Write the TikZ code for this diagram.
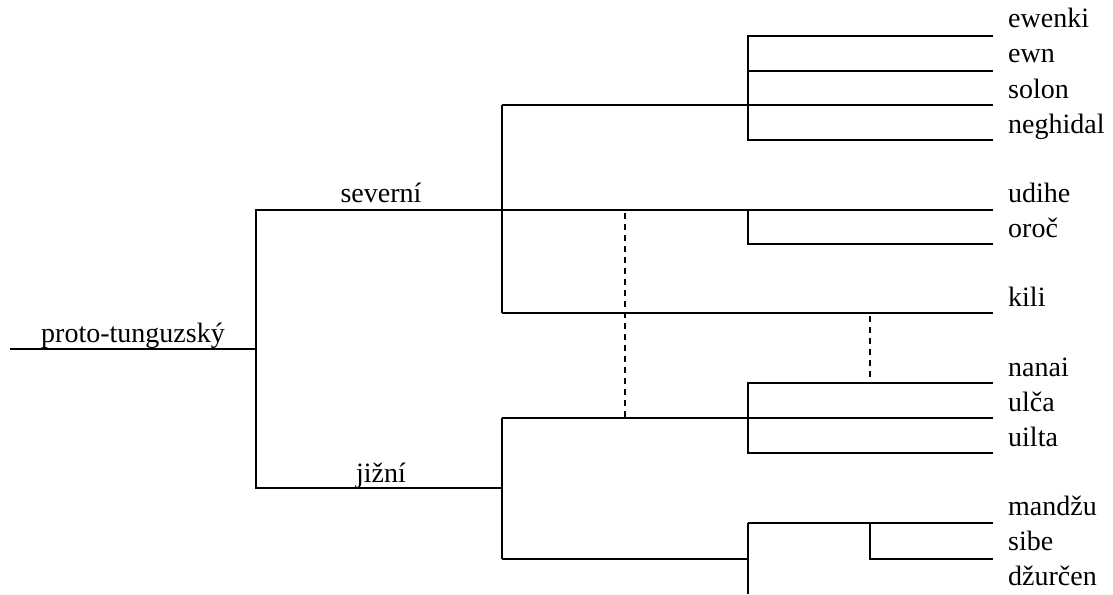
\documentclass[tikz,border=0pt]{standalone}
\usepackage{fontspec}
\setmainfont{Liberation Serif}
\begin{document}
\begin{tikzpicture}[x=1pt,y=-1pt,
  tree/.style={line width=2.2pt, line join=miter},
  link/.style={line width=2.2pt, dash pattern=on 6pt off 5pt},
  lang/.style={anchor=base west, inner sep=0pt, font=\fontsize{28}{34}\selectfont},
  grp/.style={anchor=base, inner sep=0pt, font=\fontsize{28}{34}\selectfont}]
\useasboundingbox (0,0) rectangle (1113,594);
% root
\coordinate (r0) at (10,349);
\coordinate (r) at (256,349);
\coordinate (rn) at (256,210);
\coordinate (rs) at (256,488);
\coordinate (n) at (502,210);
\coordinate (s) at (502,488);
\node[grp] (proto) at (133,342) {proto-tunguzský};
\node[grp] (sev) at (381,202) {severní};
\node[grp] (jiz) at (381,482) {jižní};
\draw[tree] (r0) -- (r);
\draw[tree] (n) -- (rn) -- (rs) -- (s);
% north
\coordinate (nt) at (502,105);
\coordinate (nb) at (502,313);
\draw[tree] (nt) -- (nb);
\coordinate (ev) at (748,105);
\coordinate (evt) at (748,36);
\coordinate (evb) at (748,140);
\coordinate (ev1) at (993,36);
\coordinate (ev2) at (993,71);
\coordinate (ev2s) at (748,71);
\coordinate (ev3) at (993,105);
\coordinate (ev4) at (993,140);
\draw[tree] (nt) -- (ev);
\draw[tree] (ev1) -- (evt) -- (evb) -- (ev4);
\draw[tree] (ev2s) -- (ev2);
\draw[tree] (ev) -- (ev3);
\coordinate (ud) at (993,210);
\coordinate (uo) at (748,210);
\coordinate (uob) at (748,244);
\coordinate (or) at (993,244);
\draw[tree] (n) -- (ud);
\draw[tree] (uo) -- (uob) -- (or);
\coordinate (ki) at (993,313);
\draw[tree] (nb) -- (ki);
% labels north
\node[lang] (l1) at (1008,28) {ewenki};
\node[lang] (l2) at (1008,63) {ewn};
\node[lang] (l3) at (1008,98) {solon};
\node[lang] (l4) at (1008,133) {neghidal};
\node[lang] (l5) at (1008,202) {udihe};
\node[lang] (l6) at (1008,237) {oroč};
\node[lang] (l7) at (1008,306) {kili};
% south
\coordinate (st) at (502,418);
\coordinate (sb) at (502,559);
\draw[tree] (st) -- (sb);
\coordinate (ul) at (993,418);
\draw[tree] (st) -- (ul);
\coordinate (nat) at (748,383);
\coordinate (nab) at (748,453);
\coordinate (na) at (993,383);
\coordinate (ui) at (993,453);
\draw[tree] (na) -- (nat) -- (nab) -- (ui);
\coordinate (mj) at (748,559);
\coordinate (mt) at (748,523);
\coordinate (mbot) at (748,594);
\coordinate (ma) at (993,523);
\coordinate (sij) at (870,523);
\coordinate (sib) at (870,559);
\coordinate (si) at (993,559);
\draw[tree] (sb) -- (mj);
\draw[tree] (mt) -- (mbot);
\draw[tree] (mt) -- (ma);
\draw[tree] (sij) -- (sib) -- (si);
% labels south
\node[lang] (l8) at (1008,376) {nanai};
\node[lang] (l9) at (1008,411) {ulča};
\node[lang] (l10) at (1008,446) {uilta};
\node[lang] (l11) at (1008,515) {mandžu};
\node[lang] (l12) at (1008,550) {sibe};
\node[lang] (l13) at (1008,585) {džurčen};
% contact lines
\coordinate (d1t) at (625,213);
\coordinate (d1b) at (625,418);
\coordinate (d2t) at (870,316);
\coordinate (d2b) at (870,383);
\draw[link] (d1t) -- (d1b);
\draw[link] (d2t) -- (d2b);
\end{tikzpicture}
\end{document}
